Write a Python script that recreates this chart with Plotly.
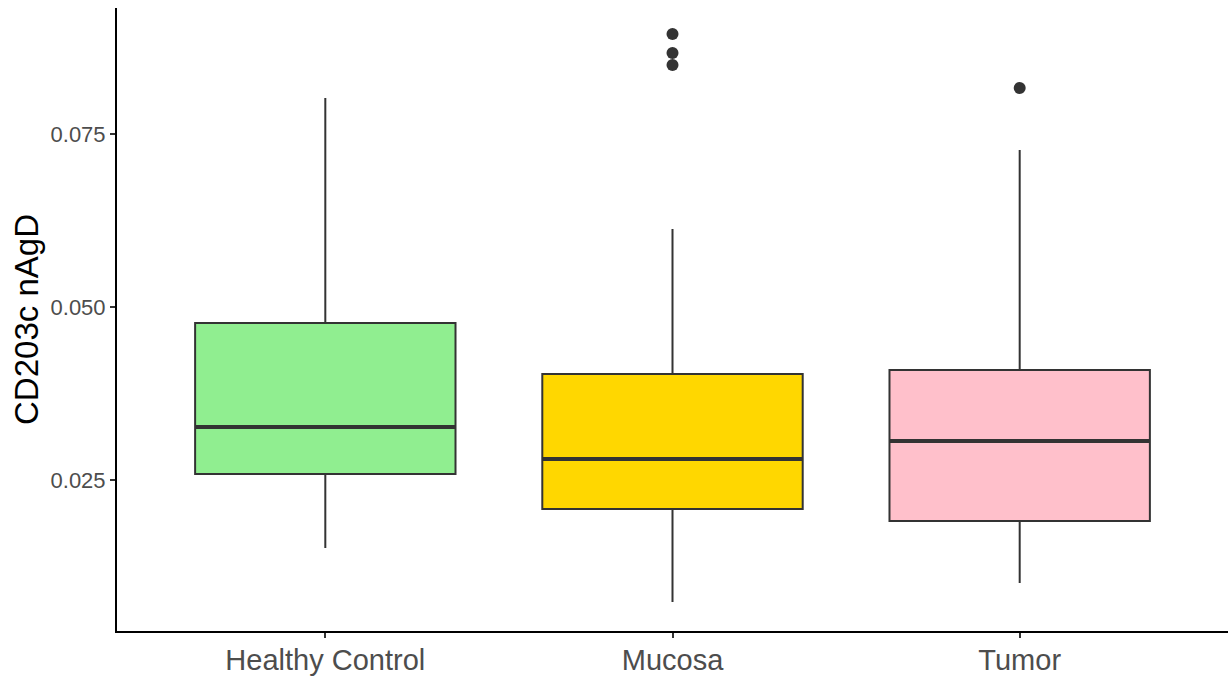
import plotly.graph_objects as go

categories = ["Healthy Control", "Mucosa", "Tumor"]
colors = ["#90EE90", "#FFD700", "#FFC0CB"]
q1 = [0.02587, 0.02081, 0.01908]
median = [0.03266, 0.02803, 0.03064]
q3 = [0.04769, 0.04032, 0.04090]
lowerfence = [0.01517, 0.00737, 0.01012]
upperfence = [0.08020, 0.06127, 0.07269]
outliers = [[], [0.08945, 0.08670, 0.08497], [0.08165]]
y_ticks = [0.025, 0.050, 0.075]
y_tick_labels = ["0.025", "0.050", "0.075"]

box_width = 0.75
line_col = "#333333"

fig = go.Figure()
for i, cat in enumerate(categories):
    fig.add_trace(go.Box(
        x=[i], q1=[q1[i]], median=[median[i]], q3=[q3[i]],
        lowerfence=[lowerfence[i]], upperfence=[upperfence[i]],
        width=box_width, whiskerwidth=0, fillcolor=colors[i],
        line=dict(color=line_col, width=2), boxpoints=False,
        name=cat, showlegend=False, hoverinfo="skip",
    ))
    fig.add_trace(go.Scatter(
        x=[i - box_width / 2, i + box_width / 2], y=[median[i], median[i]],
        mode="lines", line=dict(color=line_col, width=4),
        showlegend=False, hoverinfo="skip",
    ))
    if outliers[i]:
        fig.add_trace(go.Scatter(
            x=[i] * len(outliers[i]), y=outliers[i], mode="markers",
            marker=dict(color=line_col, size=12),
            showlegend=False, hoverinfo="skip",
        ))

font_family = "Liberation Sans, Arial, Helvetica, sans-serif"
fig.update_layout(
    width=1228, height=677,
    margin=dict(l=117, r=0, t=8, b=46),
    paper_bgcolor="white", plot_bgcolor="white",
    font=dict(family=font_family),
    xaxis=dict(
        range=[-0.6, 2.6], tickmode="array", tickvals=list(range(len(categories))),
        ticktext=categories, showgrid=False, zeroline=False,
        showline=True, linecolor="black", linewidth=2,
        ticks="outside", ticklen=5, tickwidth=1.5, tickcolor=line_col,
        tickfont=dict(size=29, color="#4D4D4D"), ticklabelstandoff=-3,
    ),
    yaxis=dict(
        range=[0.00318, 0.09321], tickmode="array", tickvals=y_ticks,
        ticktext=y_tick_labels, showgrid=False, zeroline=False,
        showline=True, linecolor="black", linewidth=2,
        ticks="outside", ticklen=5, tickwidth=1.5, tickcolor=line_col,
        tickfont=dict(size=22, color="#4D4D4D"),
        title=dict(text="CD203c nAgD", font=dict(size=33, color="black"), standoff=2),
    ),
)

fig.write_html(
    "out.html",
    config={"displayModeBar": False},
    post_script="document.body.style.margin='0';document.body.style.padding='0';document.body.style.overflow='hidden';",
)
